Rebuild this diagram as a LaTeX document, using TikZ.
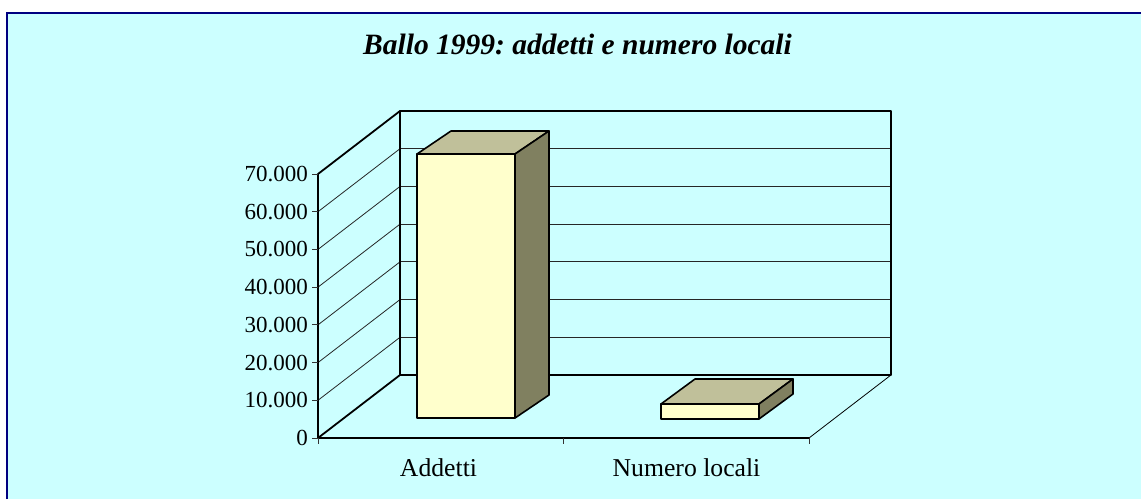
\documentclass[tikz,border=0pt]{standalone}
\usepackage{fontspec}
\setmainfont{Liberation Serif}
\definecolor{bgc}{HTML}{CCFFFF}
\definecolor{framec}{HTML}{000080}
\definecolor{barfront}{HTML}{FFFFCC}
\definecolor{bartop}{HTML}{C0C09A}
\definecolor{barside}{HTML}{808060}
\frenchspacing
\begin{document}
\begin{tikzpicture}[x=1pt,y=-1pt,
  wall/.style={line width=1.8pt, line join=round},
  gridln/.style={line width=0.8pt, black!85},
  tickln/.style={line width=0.8pt, black!80},
  barln/.style={line width=1.6pt, line join=round},
  ylab/.style={font=\fontsize{23}{25}\selectfont, inner sep=0pt, anchor=east},
  catlab/.style={font=\fontsize{25.7}{27}\selectfont, inner sep=0pt, anchor=base},
  titlelab/.style={font=\fontsize{29.5}{31}\selectfont\bfseries\itshape, inner sep=0pt, anchor=base}]
\useasboundingbox (0,0) rectangle (1141,499);
\fill[white] (0,0) rectangle (1141,499);
\fill[bgc] (7,13) rectangle (1141,499);
\draw[framec, line width=2.2pt] (7,499) -- (7,13) -- (1141,13);
% title
\node[titlelab] (title) at (577.5,54) {Ballo 1999: addetti e numero locali};
% grid lines
\foreach \i in {1,...,6}{
  \draw[gridln] (400,{111+37.714*\i}) -- (891,{111+37.714*\i});
  \draw[gridln] (318,{174+37.714*\i}) -- (400,{111+37.714*\i});
}
% walls
\draw[wall] (400,375) rectangle (891,111);
\draw[wall] (318,438) -- (318,174) -- (400,111);
\draw[wall] (318,438) -- (400,375);
% floor
\draw[line width=1.2pt] (318,438) -- (809,438);
\draw[line width=0.8pt] (809,438) -- (891,375);
% ticks
\foreach \i in {0,...,7}{
  \draw[tickln] (312,{174+37.714*\i}) -- (318,{174+37.714*\i});
}
\foreach \x in {318,563,809}{
  \draw[tickln] (\x,438) -- (\x,444);
}
% y labels
\foreach \i/\t in {0/70.000,1/60.000,2/50.000,3/40.000,4/30.000,5/20.000,6/10.000,7/0}{
  \node[ylab] (y\i) at (308,{174+37.714*\i}) {\t};
}
% bar Addetti
\filldraw[barln, fill=barfront] (417,154) rectangle (515,418);
\filldraw[barln, fill=bartop] (417,154) -- (451,131) -- (549,131) -- (515,154) -- cycle;
\filldraw[barln, fill=barside] (515,154) -- (549,131) -- (549,395) -- (515,418) -- cycle;
% bar Numero locali
\filldraw[barln, fill=barfront] (661,404) rectangle (759,419);
\filldraw[barln, fill=bartop] (661,404) -- (695,379) -- (793,379) -- (759,404) -- cycle;
\filldraw[barln, fill=barside] (759,404) -- (793,379) -- (793,394) -- (759,419) -- cycle;
% category labels
\node[catlab] (c1) at (438.5,476) {Addetti};
\node[catlab] (c2) at (686.5,476) {Numero locali};
\end{tikzpicture}
\end{document}
